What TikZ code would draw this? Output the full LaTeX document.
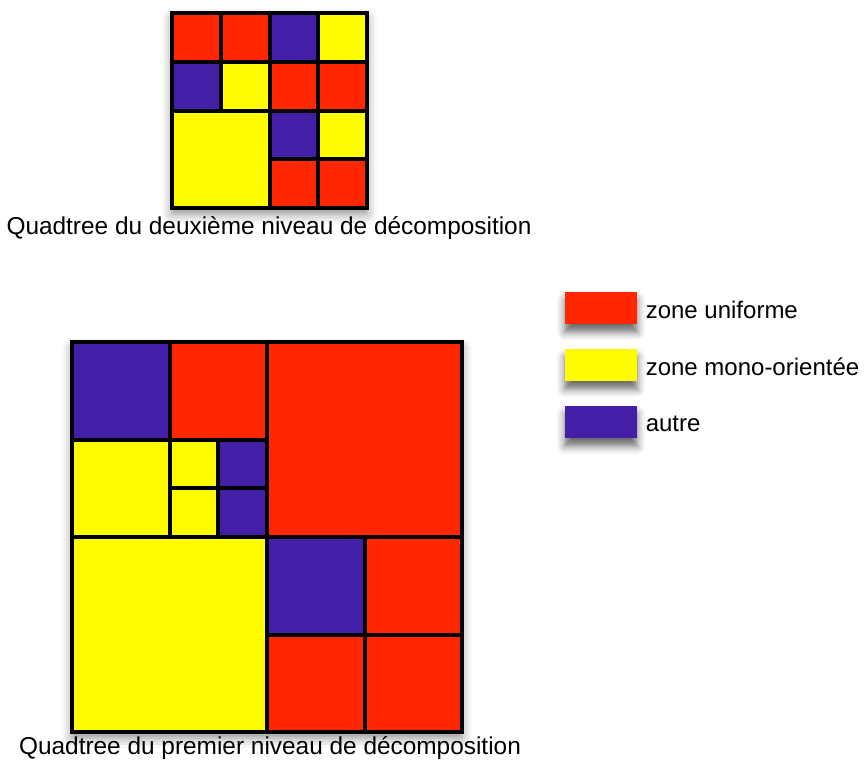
\documentclass[tikz,border=0pt]{standalone}
\usepackage{fontspec}
\setmainfont{Liberation Sans}
\usetikzlibrary{positioning,shadows.blur}

\definecolor{zred}{RGB}{255,38,0}
\definecolor{zyellow}{RGB}{255,251,0}
\definecolor{zpurple}{RGB}{67,31,168}

\tikzset{
  cell/.style={draw=black, line width=2pt},
  grid shadow/.style={blur shadow={shadow xshift=0pt, shadow yshift=-3pt,
      shadow blur radius=5pt, shadow opacity=45}},
  swatch/.style={minimum width=36pt, minimum height=16pt, inner sep=0pt,
      blur shadow={shadow xshift=0pt, shadow yshift=-4pt,
      shadow blur radius=4pt, shadow opacity=60}},
  legtext/.style={inner sep=0pt, font=\fontsize{12}{14}\selectfont},
  caption/.style={inner sep=0pt, anchor=base, font=\fontsize{12.2}{14}\selectfont}
}

% one square of the quadtree: x, y, size, colour
\newcommand{\qcell}[4]{\filldraw[cell, fill=#4] (#1,#2) rectangle ++(#3,#3);}

\begin{document}
\begin{tikzpicture}[x=0.5pt, y=-0.5pt]
  \useasboundingbox (0,0) rectangle (864,762);

  % Second level
  \begin{scope}[xshift=86pt, yshift=-6.5pt, x=24.375pt, y=-24.375pt]
    \fill[white, grid shadow] (0,0) rectangle (4,4);
    \foreach \cx/\cy/\cs/\cc in {0/0/1/zred, 1/0/1/zred, 2/0/1/zpurple, 3/0/1/zyellow,
                                 0/1/1/zpurple, 1/1/1/zyellow, 2/1/1/zred, 3/1/1/zred,
                                 0/2/2/zyellow,
                                 2/2/1/zpurple, 3/2/1/zyellow, 2/3/1/zred, 3/3/1/zred}
      {\qcell{\cx}{\cy}{\cs}{\cc}}
  \end{scope}
  \node[caption] (cap2) at (269,234) {Quadtree du deuxième niveau de décomposition};

  % First level
  \begin{scope}[xshift=36pt, yshift=-171pt, x=24.375pt, y=-24.375pt]
    \fill[white, grid shadow] (0,0) rectangle (8,8);
    \foreach \cx/\cy/\cs/\cc in {0/0/2/zpurple, 2/0/2/zred, 0/2/2/zyellow,
                                 2/2/1/zyellow, 3/2/1/zpurple, 2/3/1/zyellow, 3/3/1/zpurple,
                                 4/0/4/zred, 0/4/4/zyellow,
                                 4/4/2/zpurple, 6/4/2/zred, 4/6/2/zred, 6/6/2/zred}
      {\qcell{\cx}{\cy}{\cs}{\cc}}
  \end{scope}
  \node[caption] (cap1) at (270,754) {Quadtree du premier niveau de décomposition};

  % Legend
  \node[swatch, fill=zred] (swred) at (601,308) {};
  \node[swatch, fill=zyellow] (swyellow) at (601,365) {};
  \node[swatch, fill=zpurple] (swpurple) at (601,422) {};
  \node[legtext, right=4pt of swred, yshift=-1pt] (legred) {zone uniforme};
  \node[legtext, right=4pt of swyellow, yshift=-1pt] (legyellow) {zone mono-orientée};
  \node[legtext, right=4pt of swpurple, yshift=-1pt] (legpurple) {autre};
\end{tikzpicture}
\end{document}
